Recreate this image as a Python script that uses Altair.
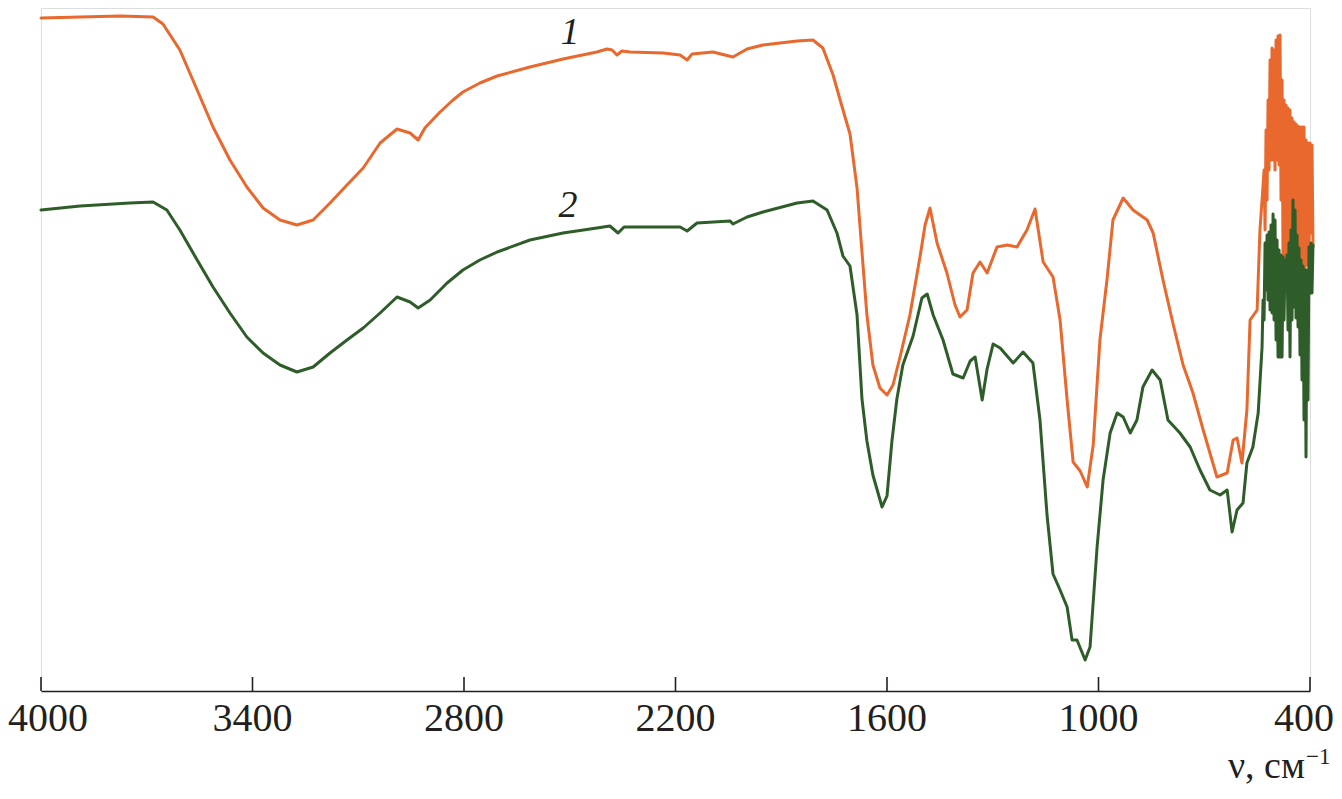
import altair as alt
import pandas as pd

# IR spectra: wavenumber (cm^-1) and relative transmittance (arbitrary units)
wn1 = [4000, 3889, 3776, 3682, 3654, 3606, 3557, 3512, 3464, 3416, 3370, 3322, 3274, 3228, 3180,
       3132, 3086, 3038, 2990, 2953, 2930, 2911, 2868, 2831, 2803, 2755, 2706, 2613, 2519, 2423,
       2394, 2380, 2366, 2352, 2329, 2235, 2187, 2167, 2153, 2094, 2037, 1997, 1952, 1855, 1810,
       1782, 1753, 1733, 1705, 1685, 1671, 1657, 1640, 1620, 1600, 1583, 1563, 1535, 1506, 1492,
       1478, 1458, 1430, 1407, 1393, 1373, 1356, 1336, 1316, 1288, 1259, 1231, 1203, 1180, 1157,
       1129, 1109, 1089, 1072, 1052, 1032, 1015, 996, 976, 959, 930, 902, 862, 845, 817,
       789, 760, 732, 703, 664, 635, 618, 607, 593, 579, 570, 550, 542, 536,
       530.3, 527.5, 524.7, 521.8, 519.0, 516.2, 513.3, 510.5, 507.7, 504.8, 502.0, 499.2,
       496.3, 493.5, 490.7, 487.8, 485.0, 482.2, 479.3, 476.5, 473.7, 470.8, 468.0, 465.2,
       462.3, 459.5, 456.7, 453.8, 451.0, 448.2, 445.3, 442.5, 439.7, 436.8, 434.0, 431.2,
       428.3, 425.5, 422.7, 419.8, 417.0, 414.2, 411.3, 408.5, 405.7, 402.8, 400.0, 397.2,
       394.3, 391.5]
t1 = [673, 674, 675, 674, 667, 641, 601, 564, 531, 504, 483, 471, 466, 471, 488,
      506, 523, 548, 562, 558, 551, 563, 579, 591, 599, 608, 615, 624, 632, 639,
      642, 641, 636, 640, 639, 638, 636, 631, 637, 639, 634, 642, 646, 650, 651,
      643, 616, 591, 557, 503, 439, 376, 326, 303, 296, 306, 334, 376, 435, 466,
      483, 448, 418, 386, 374, 381, 418, 429, 418, 444, 446, 444, 461, 482, 429,
      414, 371, 291, 229, 220, 204, 246, 351, 411, 471, 493, 481, 471, 458, 411,
      368, 326, 298, 261, 214, 218, 251, 253, 228, 281, 371, 381, 461, 491,
      521, 461, 561, 491, 591, 521, 631, 531, 643, 531, 641, 521,
      651, 531, 655, 526, 656, 491, 611, 431, 591, 426, 586, 436,
      583, 441, 581, 451, 573, 451, 569, 441, 567, 438, 565, 441,
      564, 433, 564, 426, 564, 421, 551, 426, 548, 446, 548, 458,
      546, 444]

wn2 = [4000, 3889, 3748, 3682, 3643, 3606, 3557, 3512, 3464, 3416, 3370, 3322, 3274, 3228, 3180,
       3132, 3086, 3038, 2990, 2953, 2930, 2896, 2848, 2803, 2755, 2706, 2613, 2519, 2423, 2386,
       2363, 2346, 2235, 2187, 2167, 2139, 2045, 2037, 1997, 1952, 1855, 1810, 1770, 1742, 1725,
       1705, 1685, 1671, 1657, 1640, 1614, 1600, 1586, 1572, 1555, 1526, 1501, 1486, 1469, 1441,
       1413, 1384, 1364, 1350, 1330, 1316, 1299, 1279, 1242, 1214, 1186, 1166, 1146, 1129, 1109,
       1089, 1075, 1061, 1038, 1024, 1004, 987, 967, 947, 930, 910, 891, 874, 848, 825,
       803, 769, 740, 712, 684, 655, 635, 621, 607, 590, 579, 562, 547,
       536.0, 533.2, 530.3, 527.5, 524.7, 521.8, 519.0, 516.2, 513.3, 510.5, 507.7, 504.8,
       502.0, 499.2, 496.3, 493.5, 490.7, 487.8, 485.0, 482.2, 479.3, 476.5, 473.7, 470.8,
       468.0, 465.2, 462.3, 459.5, 456.7, 453.8, 451.0, 448.2, 445.3, 442.5, 439.7, 436.8,
       434.0, 431.2, 428.3, 425.5, 422.7, 419.8, 417.0, 414.2, 411.3, 408.5, 405.7, 402.8,
       400.0, 397.2, 394.3, 391.5]
t2 = [481, 485, 488, 489, 481, 461, 431, 404, 378, 354, 338, 326, 319, 324, 338,
      351, 363, 378, 394, 389, 383, 391, 408, 421, 431, 439, 451, 458, 463, 465,
      458, 464, 464, 464, 460, 468, 470, 467, 474, 479, 488, 490, 481, 458, 435,
      425, 376, 292, 250, 216, 184, 195, 250, 292, 326, 355, 393, 397, 376, 351,
      317, 313, 330, 334, 291, 322, 347, 343, 328, 339, 328, 271, 176, 117, 101,
      84, 51, 51, 31, 44, 144, 211, 258, 278, 274, 258, 271, 304, 321, 311,
      271, 258, 244, 221, 201, 196, 201, 159, 181, 188, 228, 244, 278,
      344, 391, 371, 448, 401, 456, 391, 459, 381, 466, 378, 477,
      371, 471, 351, 451, 334, 441, 334, 436, 334, 434, 371, 431,
      401, 436, 361, 448, 334, 461, 371, 491, 384, 481, 373, 456,
      364, 443, 336, 431, 311, 425, 271, 421, 234, 421, 291, 444,
      398, 448, 398, 446]

tick_values = [4000, 3400, 2800, 2200, 1600, 1000, 400]
tick_labels = ["4000", "3400", "2800", "2200", "1600", "1000", "400"]
curve_labels = ["1", "2"]
label_wn = [2499, 2505]
label_t = [660, 487]

colors = ["#E9682D", "#2F5D29"]
ink = "#231F20"
W, H = 1269, 683

rows = []
for i, (x, y) in enumerate(zip(wn1, t1)):
    rows.append({"wn": x, "t": y, "curve": "1", "idx": i})
for i, (x, y) in enumerate(zip(wn2, t2)):
    rows.append({"wn": x, "t": y, "curve": "2", "idx": i})
df = pd.DataFrame(rows)

xscale = alt.Scale(domain=[4000, 400], nice=False, zero=False)
yscale = alt.Scale(domain=[0, H], nice=False, zero=False)

lines = alt.Chart(df).mark_line(strokeWidth=3, strokeJoin="round", strokeCap="round").encode(
    x=alt.X("wn:Q", scale=xscale,
            axis=alt.Axis(values=tick_values, title=None, ticks=False, tickSize=0, labels=False,
                          grid=False, domainColor=ink, domainWidth=1.6)),
    y=alt.Y("t:Q", scale=yscale, axis=None),
    color=alt.Color("curve:N", scale=alt.Scale(domain=curve_labels, range=colors), legend=None),
    order=alt.Order("idx:Q"),
    detail="curve:N",
)

ticks_df = pd.DataFrame({"wn": tick_values, "label": tick_labels})
ticks = alt.Chart(ticks_df).mark_rule(color=ink, strokeWidth=1.6).encode(
    x=alt.X("wn:Q", scale=xscale),
    y=alt.value(H - 14),
    y2=alt.value(H),
)

lab_style = dict(font="Liberation Serif", fontSize=40, color=ink, baseline="alphabetic", align="center")
tick_text_mid = alt.Chart(ticks_df.iloc[1:-1]).mark_text(**lab_style).encode(
    x=alt.X("wn:Q", scale=xscale), y=alt.value(H + 40), text="label:N")
tick_text_first = alt.Chart(ticks_df.iloc[:1]).mark_text(dx=7, **lab_style).encode(
    x=alt.X("wn:Q", scale=xscale), y=alt.value(H + 40), text="label:N")
tick_text_last = alt.Chart(ticks_df.iloc[-1:]).mark_text(dx=-6, **lab_style).encode(
    x=alt.X("wn:Q", scale=xscale), y=alt.value(H + 40), text="label:N")

lab_df = pd.DataFrame({"wn": label_wn, "t": label_t, "label": curve_labels})
labels = alt.Chart(lab_df).mark_text(font="Liberation Serif", fontStyle="italic", fontSize=38,
                                     color=ink, baseline="alphabetic", align="center", dy=13).encode(
    x=alt.X("wn:Q", scale=xscale),
    y=alt.Y("t:Q", scale=yscale),
    text="label:N",
)

one = pd.DataFrame({"a": [0]})
title_main = alt.Chart(one).mark_text(text="ν, см", font="Liberation Serif", fontSize=38,
                                      color=ink, align="right", baseline="alphabetic").encode(
    x=alt.value(1264), y=alt.value(770))
title_sup = alt.Chart(one).mark_text(text="−1", font="Liberation Serif", fontSize=23,
                                     color=ink, align="left", baseline="alphabetic").encode(
    x=alt.value(1265), y=alt.value(756))

chart = alt.layer(lines, ticks, tick_text_mid, tick_text_first, tick_text_last,
                  labels, title_main, title_sup).properties(
    width=W, height=H,
    autosize=alt.AutoSizeParams(type="none"),
    padding={"left": 33, "top": 0, "right": 24, "bottom": 95},
).configure_view(stroke=None).configure(background="white")

chart.save("out.html", embed_options={"renderer": "svg", "actions": False})
